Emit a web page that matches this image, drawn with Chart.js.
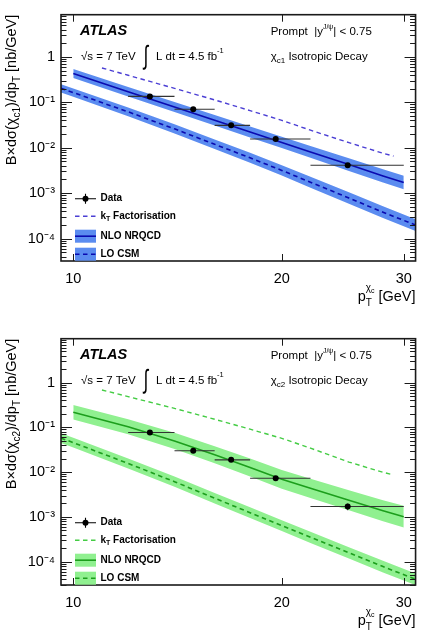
<!DOCTYPE html>
<html><head><meta charset="utf-8">
<script src="https://cdn.jsdelivr.net/npm/chart.js@4.4.1/dist/chart.umd.min.js"></script>
<style>
html,body{margin:0;padding:0;background:#fff;overflow:hidden;width:421px;height:635px}
.pane{position:absolute;left:0;width:421px}
#p1{top:0;height:320px}
#p2{top:324px;height:311px}
canvas{display:block}
</style></head><body>
<div class="pane" id="p1"><canvas id="c1" width="421" height="320"></canvas></div>
<div class="pane" id="p2"><canvas id="c2" width="421" height="311"></canvas></div>
<script>
// ---------- tick labels ----------
const xTicks = [10, 20, 30];
const xTickLabels = ['10', '20', '30'];
const yTicks = [1e-4, 1e-3, 1e-2, 1e-1, 1];
const yTickLabels = ['10⁻⁴', '10⁻³', '10⁻²', '10⁻¹', '1'];

// ---------- measured data (pT bins in GeV) ----------
const binLow = [12, 14, 16, 18, 22];
const binHigh = [14, 16, 18, 22, 30];
const binCenter = [12.9, 14.9, 16.9, 19.6, 24.9];
const chic1Data = [0.135, 0.0703, 0.0311, 0.0155, 0.00412];
const chic1Err = [0.012, 0.006, 0.0028, 0.0014, 0.0005];
const chic2Data = [0.0768, 0.030, 0.0188, 0.00732, 0.0017];
const chic2Err = [0.008, 0.003, 0.002, 0.0009, 0.0003];

// ---------- NLO NRQCD ----------
const nloX = [10, 12, 14, 16, 18, 20, 22, 25, 28, 30];
const chic1Nlo = [0.429, 0.171, 0.0789, 0.0401, 0.0222, 0.0131, 0.00807, 0.00425, 0.00239, 0.00171];
const chic1NloUp = [0.540, 0.218, 0.1016, 0.0523, 0.0293, 0.01748, 0.01089, 0.00586, 0.00334, 0.00242];
const chic1NloLo = [0.341, 0.134, 0.0613, 0.0308, 0.01684, 0.00982, 0.00598, 0.00308, 0.00171, 0.00121];
const chic2Nlo = [0.218, 0.1033, 0.0498, 0.0246, 0.01267, 0.00689, 0.00434, 0.00235, 0.00137, 0.00101];
const chic2NloUp = [0.315, 0.1528, 0.0754, 0.0381, 0.02008, 0.01118, 0.00712, 0.003946, 0.002354, 0.001776];
const chic2NloLo = [0.1509, 0.0698, 0.0329, 0.01588, 0.00799, 0.00425, 0.002645, 0.0014, 0.000797, 0.000575];

// ---------- LO CSM ----------
const csmX = [9.6, 10, 12, 14, 16, 18, 20, 22, 25, 28, 31.2];
const chic1Csm = [0.203, 0.164, 0.0618, 0.026, 0.0119, 0.00598, 0.00316, 0.00174, 0.00078, 0.00038, 0.000198];
const chic1CsmUp = [0.250, 0.202, 0.0769, 0.0327, 0.01516, 0.0077, 0.00412, 0.00229, 0.00104, 0.000513, 0.000267];
const chic1CsmLo = [0.165, 0.133, 0.0496, 0.02065, 0.00934, 0.00464, 0.00243, 0.00132, 0.000585, 0.000282, 0.000147];
const chic2Csm = [0.0577, 0.0457, 0.01566, 0.00611, 0.00261, 0.00124, 0.000637, 0.00035, 0.000157, 0.0000773, 0.0000404];
const chic2CsmUp = [0.0743, 0.0589, 0.02026, 0.00796, 0.003424, 0.001634, 0.000843, 0.000467, 0.00021, 0.0001043, 0.0000545];
const chic2CsmLo = [0.0448, 0.0355, 0.0121, 0.00469, 0.00199, 0.000941, 0.000481, 0.000262, 0.000117, 0.0000573, 0.0000299];

// ---------- kT factorisation ----------
const ktX = [11, 12, 14, 16, 18, 20, 22, 25, 28, 29];
const chic1Kt = [0.570, 0.394, 0.203, 0.113, 0.0656, 0.0401, 0.0243, 0.01294, 0.00753, 0.00655];
const chic2Kt = [0.686, 0.487, 0.266, 0.152, 0.0911, 0.057, 0.0343, 0.0168, 0.0099, 0.00869];

const FONT = '"Liberation Sans", Arial, Helvetica, sans-serif';

function pts(xs, ys) { return xs.map((x, i) => ({ x: x, y: ys[i] })); }
function setFont(ctx, size, weight, style) {
  ctx.font = (style || 'normal') + ' ' + (weight || 'normal') + ' ' + size + 'px ' + FONT;
}
// draws a run of segments [text, size, dy, weight, style]; returns end x
function run(ctx, x, y, segs) {
  for (const s of segs) {
    setFont(ctx, s[1], s[3], s[4]);
    ctx.fillText(s[0], x, y + (s[2] || 0));
    x += ctx.measureText(s[0]).width;
  }
  return x;
}
function runWidth(ctx, segs) {
  let w = 0;
  for (const s of segs) { setFont(ctx, s[1], s[3], s[4]); w += ctx.measureText(s[0]).width; }
  return w;
}

function makePanel(canvasId, cfg) {
  const decor = {
    id: 'decor' + canvasId,
    beforeDatasetDraw(chart, args) {
      const d = chart.data.datasets[args.index];
      if (!d.errLow) return;
      const ctx = chart.ctx, xs = chart.scales.x, ys = chart.scales.y;
      ctx.save();
      ctx.strokeStyle = '#333';
      ctx.lineWidth = 1.1;
      d.data.forEach((p, i) => {
        const py = ys.getPixelForValue(p.y);
        const px = xs.getPixelForValue(p.x);
        ctx.beginPath();
        ctx.moveTo(xs.getPixelForValue(d.errLow[i]), py);
        ctx.lineTo(xs.getPixelForValue(d.errHigh[i]), py);
        ctx.moveTo(px, ys.getPixelForValue(p.y - d.errY[i]));
        ctx.lineTo(px, ys.getPixelForValue(p.y + d.errY[i]));
        ctx.stroke();
      });
      ctx.restore();
    },
    afterDraw(chart) {
      const ctx = chart.ctx, ca = chart.chartArea;
      const xs = chart.scales.x, ys = chart.scales.y;
      ctx.save();
      // frame
      ctx.strokeStyle = '#1a1a1a';
      ctx.lineWidth = 1.6;
      ctx.strokeRect(ca.left, ca.top, ca.right - ca.left, ca.bottom - ca.top);
      // y ticks (inside, both sides)
      ctx.lineWidth = 1;
      ctx.beginPath();
      for (let e = -5; e <= 1; e++) {
        for (let k = 1; k <= 9; k++) {
          const v = k * Math.pow(10, e);
          if (v < ys.min || v > ys.max) continue;
          const p = Math.round(ys.getPixelForValue(v)) + 0.5;
          const L = k === 1 ? 11 : 5.5;
          ctx.moveTo(ca.left, p); ctx.lineTo(ca.left + L, p);
          ctx.moveTo(ca.right, p); ctx.lineTo(ca.right - L, p);
        }
      }
      xTicks.forEach(v => {
        const p = Math.round(xs.getPixelForValue(v)) + 0.5;
        ctx.moveTo(p, ca.bottom); ctx.lineTo(p, ca.bottom - 7);
        ctx.moveTo(p, ca.top); ctx.lineTo(p, ca.top + 7);
      });
      ctx.stroke();

      ctx.fillStyle = '#000';
      ctx.textBaseline = 'alphabetic';
      ctx.textAlign = 'left';
      const T = ca.top; // offsets relative to frame top
      // ATLAS label
      run(ctx, 80, T + 20.7, [['ATLAS', 14.5, 0, 'bold', 'italic']]);
      run(ctx, 81, T + 45, [['√s = 7 TeV', 11.5]]);
      ctx.save();
      ctx.translate(143.5, T + 49.5);
      ctx.scale(1, 1.55);
      run(ctx, 0, 0, [['∫', 17]]);
      ctx.restore();
      run(ctx, 156, T + 45, [['L dt = 4.5 fb', 11.5], ['-1', 7.5, -6.5]]);
      run(ctx, 270.7, T + 20, [['Prompt  |y', 11.5], ['J/ψ', 7, -6], ['| < 0.75', 11.5]]);
      run(ctx, 270.7, T + 45, [['χ', 11.5], [cfg.sub, 8, 3], [' Isotropic Decay', 11.5]]);

      // legend
      const lx0 = 75, lx1 = 96, tx = 100.5;
      const rows = [T + 184, T + 201.5, T + 221.5, T + 239.5];
      ctx.textBaseline = 'middle';
      // Data
      ctx.strokeStyle = '#000'; ctx.lineWidth = 1.1;
      ctx.beginPath(); ctx.moveTo(lx0, rows[0]); ctx.lineTo(lx1, rows[0]);
      ctx.moveTo((lx0 + lx1) / 2, rows[0] - 5); ctx.lineTo((lx0 + lx1) / 2, rows[0] + 5); ctx.stroke();
      ctx.beginPath(); ctx.arc((lx0 + lx1) / 2, rows[0], 3, 0, Math.PI * 2); ctx.fill();
      run(ctx, tx, rows[0], [['Data', 10, 0, 'bold']]);
      // kT
      ctx.strokeStyle = cfg.kt; ctx.lineWidth = 1.4; ctx.setLineDash([4.5, 3.5]);
      ctx.beginPath(); ctx.moveTo(lx0, rows[1]); ctx.lineTo(lx1, rows[1]); ctx.stroke();
      ctx.setLineDash([]);
      run(ctx, tx, rows[1], [['k', 10, 0, 'bold'], ['T', 7, 3, 'bold'], [' Factorisation', 10, 0, 'bold']]);
      // NLO
      ctx.fillStyle = cfg.band; ctx.fillRect(lx0, rows[2] - 6.5, lx1 - lx0, 13);
      ctx.strokeStyle = cfg.line; ctx.lineWidth = 1.6;
      ctx.beginPath(); ctx.moveTo(lx0, rows[2]); ctx.lineTo(lx1, rows[2]); ctx.stroke();
      ctx.fillStyle = '#000';
      run(ctx, tx, rows[2], [['NLO NRQCD', 10, 0, 'bold']]);
      // LO CSM
      ctx.fillStyle = cfg.band; ctx.fillRect(lx0, rows[3] - 6.5, lx1 - lx0, 13);
      ctx.strokeStyle = cfg.line; ctx.lineWidth = 1.6; ctx.setLineDash([4.5, 3.5]);
      ctx.beginPath(); ctx.moveTo(lx0, rows[3]); ctx.lineTo(lx1, rows[3]); ctx.stroke();
      ctx.setLineDash([]);
      ctx.fillStyle = '#000';
      run(ctx, tx, rows[3], [['LO CSM', 10, 0, 'bold']]);

      // y title (rotated)
      ctx.textBaseline = 'alphabetic';
      const ysegs = [['B×dσ(χ', 14.5], [cfg.sub, 10, 4], [')/dp', 14.5], ['T', 10, 4], [' [nb/GeV]', 14.5]];
      const yw = runWidth(ctx, ysegs);
      ctx.save();
      ctx.translate(16, ca.top);
      ctx.rotate(-Math.PI / 2);
      run(ctx, -yw, 0, ysegs);
      ctx.restore();

      // x title
      const base = ca.bottom + 40;
      setFont(ctx, 14.5); const wp = ctx.measureText('p').width;
      setFont(ctx, 10); const wT = ctx.measureText('T').width; const wchi = ctx.measureText('χ').width;
      setFont(ctx, 7); const wc = ctx.measureText('c').width;
      setFont(ctx, 14.5); const wg = ctx.measureText(' [GeV]').width;
      const stackW = Math.max(wT, wchi + wc);
      let x0 = ca.right - (wp + stackW + wg);
      run(ctx, x0, base, [['p', 14.5]]);
      run(ctx, x0 + wp, base + 5, [['T', 10]]);
      run(ctx, x0 + wp, base - 10, [['χ', 10], ['c', 7, 2]]);
      run(ctx, x0 + wp + stackW, base, [[' [GeV]', 14.5]]);
      ctx.restore();
    }
  };

  const band = (label, xs, ys, fill) => ({
    label: label, data: pts(xs, ys), pointRadius: 0, borderWidth: 0,
    backgroundColor: cfg.band, borderColor: 'rgba(0,0,0,0)', fill: fill, order: 5
  });
  const line = (label, xs, ys, color, dash, w) => ({
    label: label, data: pts(xs, ys), pointRadius: 0, borderWidth: w,
    borderColor: color, borderDash: dash, fill: false, order: 2
  });

  return new Chart(document.getElementById(canvasId), {
    type: 'line',
    data: {
      datasets: [
        band('NLO up', nloX, cfg.nloUp, '+1'),
        band('NLO lo', nloX, cfg.nloLo, false),
        band('CSM up', csmX, cfg.csmUp, '+1'),
        band('CSM lo', csmX, cfg.csmLo, false),
        line('NLO NRQCD', nloX, cfg.nlo, cfg.line, [], 1.6),
        line('LO CSM', csmX, cfg.csm, cfg.line, [4.5, 3.5], 1.6),
        line('kT Factorisation', ktX, cfg.ktY, cfg.kt, [4.5, 3.5], 1.4),
        {
          label: 'Data', data: pts(binCenter, cfg.data), showLine: false,
          pointRadius: 3, pointHoverRadius: 3, pointBackgroundColor: '#000', pointBorderColor: '#000',
          pointBorderWidth: 0, order: 0,
          errLow: binLow, errHigh: binHigh, errY: cfg.err
        }
      ]
    },
    options: {
      responsive: false, animation: false, events: [],
      layout: { padding: { top: 10, right: 5, left: 0, bottom: 0 } },
      scales: {
        x: {
          type: 'logarithmic', min: 9.6, max: 31.2,
          afterBuildTicks: s => { s.ticks = xTicks.map(v => ({ value: v })); },
          afterFit: s => { s.height = cfg.xh; },
          grid: { display: false, drawTicks: false }, border: { display: false },
          ticks: {
            autoSkip: false, maxRotation: 0, padding: 9, color: '#000',
            font: { family: FONT, size: 14.5 },
            callback: (v, i) => xTickLabels[i]
          }
        },
        y: {
          type: 'logarithmic', min: cfg.ymin, max: cfg.ymax,
          afterBuildTicks: s => { s.ticks = yTicks.map(v => ({ value: v })); },
          afterFit: s => { s.width = 61; },
          grid: { display: false, drawTicks: false }, border: { display: false },
          ticks: {
            autoSkip: false, padding: 6, color: '#000',
            font: { family: FONT, size: 14.5 },
            callback: (v, i) => yTickLabels[i]
          }
        }
      },
      plugins: { legend: { display: false }, tooltip: { enabled: false } }
    },
    plugins: [decor]
  });
}

makePanel('c1', {
  sub: 'c1', xh: 59, ymin: 3.2e-5, ymax: 8.5,
  band: '#5b8cf0', line: '#0a0ab0', kt: '#4b3fd4',
  data: chic1Data, err: chic1Err,
  nlo: chic1Nlo, nloUp: chic1NloUp, nloLo: chic1NloLo,
  csm: chic1Csm, csmUp: chic1CsmUp, csmLo: chic1CsmLo, ktY: chic1Kt
});
makePanel('c2', {
  sub: 'c2', xh: 50, ymin: 3.0e-5, ymax: 9.6,
  band: '#90f090', line: '#1c9e1c', kt: '#44cc44',
  data: chic2Data, err: chic2Err,
  nlo: chic2Nlo, nloUp: chic2NloUp, nloLo: chic2NloLo,
  csm: chic2Csm, csmUp: chic2CsmUp, csmLo: chic2CsmLo, ktY: chic2Kt
});
</script>
</body></html>
